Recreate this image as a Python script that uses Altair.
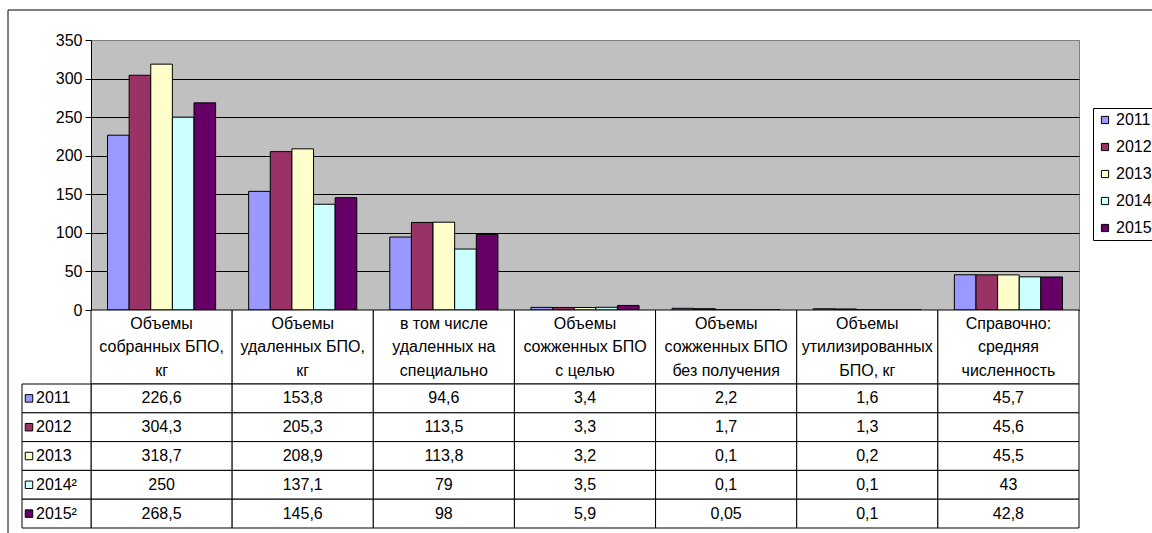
import altair as alt
import pandas as pd

# ---- data -------------------------------------------------------------
categories = [
    ["Объемы", "собранных БПО,", "кг"],
    ["Объемы", "удаленных БПО,", "кг"],
    ["в том числе", "удаленных на", "специально"],
    ["Объемы", "сожженных БПО", "с целью"],
    ["Объемы", "сожженных БПО", "без получения"],
    ["Объемы", "утилизированных", "БПО, кг"],
    ["Справочно:", "средняя", "численность"],
]
years = ["2011", "2012", "2013", "2014²", "2015²"]
colors = ["#9999FF", "#993366", "#FFFFCC", "#CCFFFF", "#660066"]

v2011 = [226.6, 153.8, 94.6, 3.4, 2.2, 1.6, 45.7]
v2012 = [304.3, 205.3, 113.5, 3.3, 1.7, 1.3, 45.6]
v2013 = [318.7, 208.9, 113.8, 3.2, 0.1, 0.2, 45.5]
v2014 = [250, 137.1, 79, 3.5, 0.1, 0.1, 43]
v2015 = [268.5, 145.6, 98, 5.9, 0.05, 0.1, 42.8]
series = [v2011, v2012, v2013, v2014, v2015]

y_ticks = [0, 50, 100, 150, 200, 250, 300, 350]

# ---- tables built from the lists above ----------------------------------
cat_keys = [" ".join(c) for c in categories]
rows = []
for yr, vals in zip(years, series):
    for key, v in zip(cat_keys, vals):
        rows.append({"cat": key, "year": yr, "value": v,
                     "label": f"{v:g}".replace(".", ",")})
df = pd.DataFrame(rows)
head_df = pd.DataFrame({"cat": cat_keys, "text": ["\n".join(c) for c in categories]})
year_df = pd.DataFrame({"year": years})

FONT = "Liberation Sans"
FS = 16
PLOT_W, PLOT_H = 988, 270
HEAD_BOTTOM = 344          # header row of the data table ends here
TABLE_BOTTOM = 488         # bottom of the data table
LINE_H = 23.5              # line spacing of the header captions

color_scale = alt.Scale(domain=years, range=colors)
cell_x = alt.X("cat:N", sort=cat_keys, axis=None,
               scale=alt.Scale(type="band", domain=cat_keys, paddingInner=0, paddingOuter=0))
row_y = alt.Y("year:N", sort=years, axis=None,
              scale=alt.Scale(type="band", domain=years, range=[HEAD_BOTTOM, TABLE_BOTTOM],
                              paddingInner=0, paddingOuter=0))

# outer frame of the chart
frame = alt.Chart(alt.Data(values=[{}])).mark_rect(
    filled=False, stroke="black", strokeWidth=1
).encode(x=alt.value(-83), x2=alt.value(1120), y=alt.value(-30), y2=alt.value(560))

# clustered bars
bars = alt.Chart(df).mark_bar(stroke="black", strokeWidth=1).encode(
    x=alt.X("cat:N", sort=cat_keys,
            scale=alt.Scale(domain=cat_keys, paddingInner=0.234, paddingOuter=0.117),
            axis=alt.Axis(labels=False, ticks=False, title=None, domainColor="black",
                          domainWidth=1)),
    xOffset=alt.XOffset("year:N", sort=years, scale=alt.Scale(paddingInner=0, paddingOuter=0)),
    y=alt.Y("value:Q", scale=alt.Scale(domain=[0, 350], nice=False),
            axis=alt.Axis(values=y_ticks, format="d", title=None,
                          grid=True,
                          gridColor={"condition": {"test": "datum.value === 350",
                                                   "value": "#808080"},
                                     "value": "black"},
                          gridWidth=1, domainColor="black", tickColor="black",
                          tickSize=6, labelPadding=3, labelFontSize=FS,
                          labelFont=FONT, labelColor="black")),
    color=alt.Color("year:N", sort=years, scale=color_scale,
                    legend=alt.Legend(orient="none", legendX=1002, legendY=68,
                                      title=None, symbolType="square", symbolSize=52,
                                      symbolStrokeColor="black", symbolStrokeWidth=1,
                                      labelFont=FONT, labelFontSize=FS,
                                      labelColor="black", labelOffset=3,
                                      rowPadding=11, padding=4,
                                      strokeColor="black", fillColor="white")),
)

# data table: header cells
head_cells = alt.Chart(head_df).mark_rect(fill="white", stroke="black", strokeWidth=1).encode(
    x=cell_x, y=alt.value(PLOT_H), y2=alt.value(HEAD_BOTTOM))
head_text = alt.Chart(head_df).mark_text(
    font=FONT, fontSize=FS, color="black", lineBreak="\n", lineHeight=LINE_H,
    baseline="middle", align="center"
).encode(x=cell_x, y=alt.value((PLOT_H + HEAD_BOTTOM) / 2 - LINE_H), text="text:N")

# data table: value cells
value_cells = alt.Chart(df).mark_rect(fill="white", stroke="black", strokeWidth=1).encode(
    x=cell_x, y=row_y)
value_text = alt.Chart(df).mark_text(
    font=FONT, fontSize=FS, color="black", baseline="middle", align="center"
).encode(x=cell_x, y=row_y, text="label:N")

# data table: series key column
key_cells = alt.Chart(year_df).mark_rect(fill="white", stroke="black", strokeWidth=1).encode(
    x=alt.value(-69), x2=alt.value(0), y=row_y)
key_squares = alt.Chart(year_df).mark_point(
    shape="square", size=56, filled=True, stroke="black", strokeWidth=1, opacity=1
).encode(x=alt.value(-62), y=row_y, fill=alt.Fill("year:N", sort=years, scale=color_scale,
                                                    legend=None))
key_text = alt.Chart(year_df).mark_text(
    font=FONT, fontSize=FS, color="black", baseline="middle", align="left"
).encode(x=alt.value(-55), y=row_y, text="year:N")

chart = alt.layer(
    frame, bars, head_cells, head_text, value_cells, value_text,
    key_cells, key_squares, key_text
).resolve_scale(
    x="independent", y="independent"
).properties(
    width=PLOT_W, height=PLOT_H,
    autosize=alt.AutoSizeParams(type="none"),
    padding={"left": 91, "top": 40, "right": 73, "bottom": 223},
    background="white",
).configure_view(
    fill="#C0C0C0", stroke="#808080", strokeWidth=1
)

chart.save("out.html", embed_options={"renderer": "svg", "actions": False})
